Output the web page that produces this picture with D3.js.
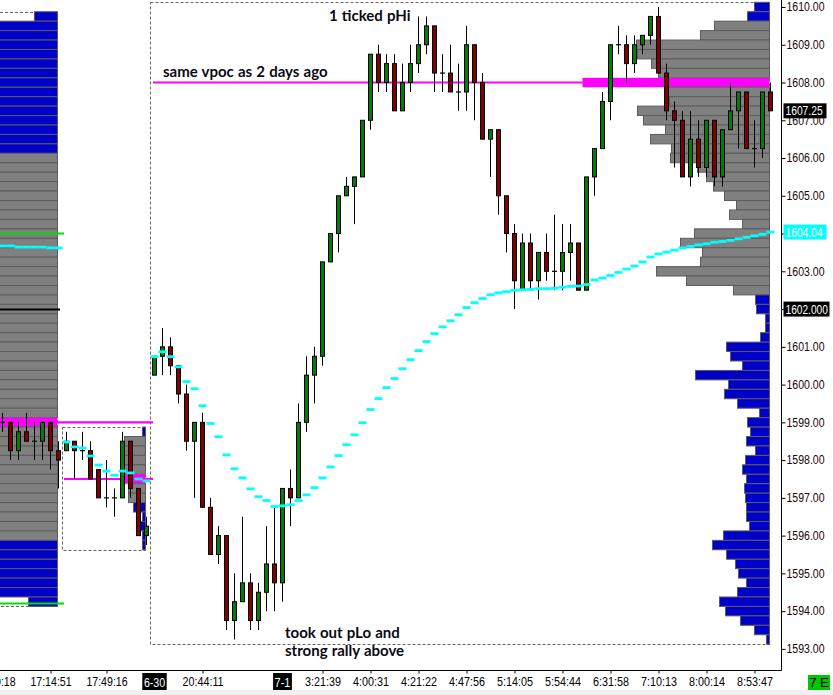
<!DOCTYPE html>
<html><head><meta charset="utf-8">
<script src="https://cdn.jsdelivr.net/npm/d3@7"></script>
<style>
html,body{margin:0;padding:0;background:#fff;overflow:hidden}
svg{display:block}
</style></head><body>
<svg id="chart" width="833" height="695"></svg>
<script>
// ---------- DATA ----------
// candle index n: 0-7 = session A, 8-18 = session B, 19-96 = main session (6-30 / 7-1)
const sessions = [
  {name: "A", first: 0, last: 7},
  {name: "B", first: 8, last: 18},
  {name: "main", first: 19, last: 96}
];

const open = [
  1599, 1599, 1598.25, 1598.75, 1598.5, 1598.5, 1599, 1598.25,
  1598.25, 1598.5, 1598.25, 1598.25, 1597.75, 1597, 1597, 1597, 1598.5, 1597.25, 1596,
  1600.25, 1600.75, 1601, 1600.5, 1599.75, 1598.5, 1599, 1596.75, 1595.5, 1596,
  1593.75, 1594.25, 1594.75, 1593.75, 1594.5, 1595.25, 1594.75, 1597.25, 1597, 1599,
  1600.25, 1600.75, 1603.25, 1604, 1605, 1605.25, 1605.5, 1607, 1608.75, 1608,
  1608.5, 1607.25, 1608, 1608.5, 1609, 1609.5, 1608.25, 1608.25, 1607.75, 1607.75,
  1609, 1608, 1606.5, 1606.75, 1605, 1604, 1602.5, 1603.75, 1602.75, 1603.5,
  1603, 1603, 1603.5, 1603.75, 1602.5, 1605.5, 1606.25, 1607.5, 1609, 1609,
  1608.5, 1609, 1609.25, 1609.75, 1608.25, 1607.25, 1607, 1605.5, 1606.5, 1605.75,
  1607, 1605.5, 1606.75, 1607.25, 1607.75, 1606.25, 1606.25, 1607.75
];
const high = [
  1599.25, 1599, 1599, 1599.25, 1599, 1599, 1599, 1598.5,
  1598.75, 1598.5, 1598.75, 1598.5, 1597.75, 1598, 1597.25, 1598.75, 1598.5, 1597.25, 1596.5,
  1600.75, 1601.5, 1601.25, 1600.5, 1600, 1599, 1599.25, 1597, 1596.25, 1596,
  1595, 1596.5, 1595, 1594.75, 1596.25, 1596.75, 1597.25, 1597.75, 1599.5, 1600.75,
  1601, 1603.25, 1604, 1605, 1605.5, 1605.5, 1607, 1608.75, 1609, 1608.75,
  1608.75, 1608.5, 1609, 1609.75, 1609.75, 1609.5, 1608.75, 1609, 1608.5, 1609.5,
  1609, 1608.25, 1606.75, 1606.75, 1605, 1604.25, 1604, 1604, 1603.5, 1604,
  1604.5, 1604.25, 1604.25, 1603.75, 1605.5, 1606.25, 1607.75, 1609, 1609.5, 1609.25,
  1609.25, 1609.25, 1609.75, 1610, 1608.5, 1607.5, 1607.25, 1607.25, 1607, 1607,
  1607, 1606.75, 1608, 1607.75, 1607.75, 1607, 1607.75, 1608
];
const low = [
  1598.75, 1598, 1598, 1598.5, 1598, 1598, 1597.75, 1597.25,
  1598.25, 1597.5, 1598, 1597.5, 1597, 1596.75, 1596.5, 1597, 1597, 1596, 1595.75,
  1600.25, 1600.25, 1600.25, 1599.5, 1598.25, 1597, 1596.75, 1595.5, 1595.25, 1593.5,
  1593.25, 1594.25, 1593.5, 1593.5, 1594, 1594, 1594.25, 1596.25, 1597, 1598.75,
  1599.5, 1600.5, 1603.25, 1603.5, 1605, 1604.25, 1605.5, 1606.75, 1607.75, 1607.75,
  1607.25, 1607.25, 1607.75, 1608.25, 1608.75, 1607.75, 1607.75, 1607.75, 1607.25, 1607.25,
  1607, 1606.5, 1605.5, 1604.5, 1603.5, 1602, 1602.5, 1602.5, 1602.25, 1602.75,
  1602.5, 1602.5, 1602.75, 1602.5, 1602.5, 1605, 1606.25, 1607, 1608.75, 1608,
  1608.25, 1608.75, 1609, 1608.25, 1607, 1605.75, 1605.5, 1605.25, 1605.5, 1605.5,
  1605.25, 1605.25, 1606.75, 1606.25, 1606.25, 1605.75, 1606, 1607.25
];
const close = [
  1599, 1598.25, 1598.75, 1598.5, 1598.5, 1599, 1598.25, 1598,
  1598.5, 1598.25, 1598.25, 1597.5, 1597, 1597, 1597, 1598.5, 1597.25, 1596, 1596.25,
  1600.75, 1601, 1600.5, 1599.75, 1598.5, 1599, 1596.75, 1595.5, 1596, 1593.75,
  1594.25, 1594.75, 1593.75, 1594.5, 1595.25, 1594.75, 1597.25, 1597, 1599, 1600.25,
  1600.75, 1603.25, 1604, 1605, 1605.25, 1605.5, 1607, 1608.75, 1608, 1608.5,
  1607.25, 1608, 1608.5, 1609, 1609.5, 1608.25, 1608.25, 1607.75, 1607.75, 1609,
  1608, 1606.5, 1606.75, 1605, 1604, 1602.75, 1603.75, 1602.75, 1603.5, 1603,
  1603, 1603.5, 1603.75, 1602.5, 1605.5, 1606.25, 1607.5, 1609, 1609, 1608.5,
  1609, 1609.25, 1609.75, 1608.25, 1607.25, 1607, 1605.5, 1606.5, 1605.75, 1607,
  1605.5, 1606.75, 1607.25, 1607.75, 1606.25, 1606.25, 1607.75, 1607.25
];
// session VWAP value at each candle
const vwap = [
  1603.67, 1603.67, 1603.64, 1603.64, 1603.64, 1603.64, 1603.62, 1603.62,
  1598.48, 1598.35, 1598.32, 1598.11, 1597.87, 1597.71, 1597.60, 1597.71, 1597.66, 1597.50, 1597.45,
  1600.74, 1600.87, 1600.74, 1600.47, 1600.08, 1599.89, 1599.44, 1598.97, 1598.62, 1598.14,
  1597.77, 1597.53, 1597.24, 1597.03, 1596.93, 1596.77, 1596.79, 1596.82, 1596.93, 1597.08,
  1597.27, 1597.53, 1597.82, 1598.12, 1598.41, 1598.67, 1598.99, 1599.34, 1599.63, 1599.92,
  1600.16, 1600.42, 1600.66, 1600.90, 1601.14, 1601.35, 1601.53, 1601.69, 1601.85, 1602.04,
  1602.17, 1602.28, 1602.38, 1602.43, 1602.46, 1602.50, 1602.51, 1602.52, 1602.54, 1602.54,
  1602.55, 1602.58, 1602.60, 1602.61, 1602.65, 1602.77, 1602.82, 1602.89, 1602.97, 1603.06,
  1603.14, 1603.25, 1603.38, 1603.46, 1603.51, 1603.56, 1603.62, 1603.66, 1603.70, 1603.73,
  1603.77, 1603.79, 1603.82, 1603.86, 1603.90, 1603.94, 1603.98, 1604.04
];

// volume profiles: top price, rows every 0.25 downward
const profATop = 1609.75;
const profAVol = [23,
  70, 72, 75, 78, 80, 76, 82, 85, 88, 84, 90, 92, 95, 98,
  100, 104, 108, 112, 110, 115, 118, 120, 122, 125, 128, 126, 130, 132, 135, 138, 140, 142, 145, 150, 160,
  180, 155, 150, 145, 140, 138, 135, 130, 128, 125, 120, 118, 115, 112, 110, 108, 105, 102, 100, 98,
  90, 85, 80, 75, 70, 65, 29];
const profAPoc = 1599, profAVA = [1606, 1596];

const profBTop = 1598.75;
const profBVol = [3, 21, 21, 21, 21, 22, 17, 17, 12, 3, 5, 3, 3];
const profBPoc = 1597.5, profBVA = [1598.5, 1597];

const profMTop = 1610;
const profMVol = [15, 22, 55, 69, 133, 132, 118, 111, 187, 102, 100, 132, 126, 104, 119, 98, 99,
  72, 63, 56, 45, 33, 40, 27, 75, 89, 67, 69, 113, 83, 36, 14, 13, 4, 4, 9, 43, 39, 27, 74,
  41, 45, 32, 10, 22, 19, 23, 14, 24, 27, 23, 25, 24, 23, 23, 20, 46, 57, 43, 34, 31, 23,
  32, 50, 44, 29, 15, 3];
const profMPoc = 1608, profMVA = [1609.5, 1602.5];

// extra level lines on the left
const greenLevels = [1604, 1594.2];
const blackLevel = 1602;

// axis labels
const priceTicks = [1593, 1594, 1595, 1596, 1597, 1598, 1599, 1600, 1601, 1602, 1603, 1604, 1605, 1606, 1607, 1608, 1609, 1610];
const timeTickIdx = [-1, 6, 13, 25, 40, 46, 52, 58, 64, 70, 76, 82, 88, 94];
const timeTickLabels = ["16:40:18", "17:14:51", "17:49:16", "20:44:11", "3:21:39", "4:00:31", "4:21:22", "4:47:56", "5:14:05", "5:54:44", "6:31:58", "7:10:13", "8:00:14", "8:53:47"];
const dateTickIdx = [19, 35];
const dateTickLabels = ["6-30", "7-1"];
const lastPrice = 1607.25;
const lastVwap = 1604.04;
const markerLevel = 1602;

// ---------- DRAW ----------
const svg = d3.select("#chart");
const W = 833, H = 695;
const plotRight = 781.5, plotBottom = 670.5;

const x = d3.scaleLinear().domain([0, 96]).range([2.5, 770.5]);
const y = d3.scaleLinear().domain([1593, 1610]).range([648.9, 7]);
const rowH = y(1609.75) - y(1610);
const vol = d3.scaleLinear().domain([0, 100]).range([0, 100]);

const root = svg.append("g");
svg.append("defs").append("clipPath").attr("id", "plotclip")
  .append("rect").attr("x", 0).attr("y", 0).attr("width", plotRight).attr("height", plotBottom);
const plot = root.append("g").attr("clip-path", "url(#plotclip)");

function drawProfile(top, vols, poc, va, rightX) {
  const rows = vols.map((v, i) => ({p: top - 0.25 * i, v}));
  plot.append("g").selectAll("rect").data(rows).join("rect")
    .attr("x", d => rightX - vol(d.v))
    .attr("y", d => y(d.p) - rowH / 2)
    .attr("width", d => vol(d.v))
    .attr("height", rowH)
    .attr("fill", d => d.p === poc ? "#ff00ff" : (d.p <= va[0] && d.p >= va[1] ? "#808080" : "#0000c8"))
    .attr("stroke", d => d.p === poc ? "none" : "#5c5c5c")
    .attr("stroke-width", 1);
}

function box(first, last, top, n) {
  const y0 = y(top + 0.125), y1 = y(top - 0.25 * (n - 1) - 0.125);
  const x0 = first === 0 ? -10 : x(first) - 4;
  plot.append("rect")
    .attr("x", x0).attr("y", Math.round(y0) + 0.5)
    .attr("width", x(last) - 1 - x0).attr("height", Math.round(y1) - Math.round(y0))
    .attr("fill", "none").attr("stroke", "#666").attr("stroke-dasharray", "3,2");
}

function pocLine(x0, x1, p) {
  plot.append("line").attr("x1", x0).attr("x2", x1).attr("y1", y(p)).attr("y2", y(p))
    .attr("stroke", "#ff00ff").attr("stroke-width", 2.2);
}

box(0, 7, profATop, profAVol.length);
box(8, 18, profBTop, profBVol.length);
box(19, 96, profMTop, profMVol.length);

drawProfile(profATop, profAVol, profAPoc, profAVA, x(7) - 1);
drawProfile(profBTop, profBVol, profBPoc, profBVA, x(18) - 1);

pocLine(x(7) - 1, x(19) - 1.5, profAPoc);
pocLine(x(8) - 2.5, x(19) - 1.5, profBPoc);
pocLine(x(19) - 1.5, x(96) - 1 - vol(profMVol[(profMTop - profMPoc) / 0.25]), profMPoc);

drawProfile(profMTop, profMVol, profMPoc, profMVA, x(96) - 1);

greenLevels.forEach(p => {
  plot.append("line").attr("x1", 0).attr("x2", 64).attr("y1", y(p)).attr("y2", y(p))
    .attr("stroke", "#00e000").attr("stroke-width", 2);
});
plot.append("line").attr("x1", 0).attr("x2", 60).attr("y1", Math.round(y(blackLevel)) + 0.5).attr("y2", Math.round(y(blackLevel)) + 0.5)
  .attr("stroke", "#000").attr("stroke-width", 2);

// candles
const candles = open.map((o, n) => ({n, o, h: high[n], l: low[n], c: close[n]}));
const cg = plot.append("g");
cg.selectAll("line.wick").data(candles).join("line").attr("class", "wick")
  .attr("x1", d => x(d.n)).attr("x2", d => x(d.n))
  .attr("y1", d => y(d.h)).attr("y2", d => y(d.l))
  .attr("stroke", "#000").attr("stroke-width", 1);
cg.selectAll("rect.body").data(candles.filter(d => d.o !== d.c)).join("rect").attr("class", "body")
  .attr("x", d => x(d.n) - 2)
  .attr("y", d => y(Math.max(d.o, d.c)))
  .attr("width", 4)
  .attr("height", d => Math.abs(y(d.o) - y(d.c)))
  .attr("fill", d => d.c > d.o ? "#008000" : "#800000")
  .attr("stroke", "#000").attr("stroke-width", 1);
cg.selectAll("line.doji").data(candles.filter(d => d.o === d.c)).join("line").attr("class", "doji")
  .attr("x1", d => x(d.n) - 2.5).attr("x2", d => x(d.n) + 2.5)
  .attr("y1", d => y(d.o)).attr("y2", d => y(d.o))
  .attr("stroke", "#000").attr("stroke-width", 1.2);

// VWAP dashes
plot.append("g").selectAll("line").data(vwap.map((v, n) => ({n, v}))).join("line")
  .attr("x1", d => x(d.n) - 4).attr("x2", d => x(d.n) + 4)
  .attr("y1", d => y(d.v)).attr("y2", d => y(d.v))
  .attr("stroke", "#00ffff").attr("stroke-width", 2.8);

// annotations
const ann = [
  {t: "same vpoc as 2 days ago", x: 163, y: 77},
  {t: "1 ticked pHi", x: 329, y: 21},
  {t: "took out pLo and", x: 285, y: 638},
  {t: "strong rally above", x: 285, y: 656}
];
plot.append("g").selectAll("text").data(ann).join("text")
  .attr("x", d => d.x).attr("y", d => d.y).text(d => d.t)
  .attr("font-family", "Lato, 'Open Sans', sans-serif").attr("font-weight", "bold")
  .attr("font-size", 15).attr("word-spacing", 0.5).attr("fill", "#0a0a14");

// axes
root.append("line").attr("x1", plotRight).attr("x2", plotRight).attr("y1", 0).attr("y2", plotBottom)
  .attr("stroke", "#000").attr("stroke-width", 1);
root.append("line").attr("x1", 0).attr("x2", plotRight).attr("y1", plotBottom).attr("y2", plotBottom)
  .attr("stroke", "#000").attr("stroke-width", 1);

const yAxis = d3.axisRight(y).tickValues(priceTicks).tickFormat(d3.format(".2f")).tickSize(4).tickSizeOuter(0).tickPadding(1);
const ya = root.append("g").attr("transform", `translate(${plotRight},0)`).call(yAxis);
ya.select(".domain").remove();
ya.selectAll("text").attr("font-family", "'Liberation Sans', Arial, sans-serif").attr("font-size", 12)
  .attr("fill", "#1a0505").attr("textLength", 38).attr("lengthAdjust", "spacingAndGlyphs");

const xAxis = d3.axisBottom(x).tickValues(timeTickIdx).tickFormat((d, i) => timeTickLabels[i]).tickSize(3).tickSizeOuter(0).tickPadding(3);
const xa = root.append("g").attr("transform", `translate(0,${plotBottom})`).call(xAxis);
xa.select(".domain").remove();
xa.selectAll("text").attr("font-family", "'Liberation Sans', Arial, sans-serif").attr("font-size", 13)
  .attr("fill", "#000").attr("textLength", function(d, i) { return timeTickLabels[i].length * 5.15; })
  .attr("lengthAdjust", "spacingAndGlyphs");

// date markers
const dg = root.append("g");
dateTickIdx.forEach((n, i) => {
  const w = dateTickLabels[i].length * 5.6 + 2;
  dg.append("rect").attr("x", x(n) - w / 2).attr("y", 673).attr("width", w).attr("height", 18).attr("fill", "#000");
  dg.append("text").attr("x", x(n)).attr("y", 687).attr("text-anchor", "middle").text(dateTickLabels[i])
    .attr("font-family", "'Liberation Sans', Arial, sans-serif").attr("font-size", 13).attr("fill", "#fff")
    .attr("textLength", dateTickLabels[i].length * 5.3).attr("lengthAdjust", "spacingAndGlyphs");
});

// right-side value tags
function tag(p, label, fill, w) {
  root.append("rect").attr("x", 783.5).attr("y", y(p) - 7.5).attr("width", w).attr("height", 15).attr("fill", fill);
  root.append("text").attr("x", 785.5).attr("y", y(p) + 4.5).text(label)
    .attr("font-family", "'Liberation Sans', Arial, sans-serif").attr("font-size", 12).attr("fill", "#fff")
    .attr("textLength", label.length * 5.3).attr("lengthAdjust", "spacingAndGlyphs");
}
tag(lastVwap, d3.format(".2f")(lastVwap), "#00ffff", 43);
tag(markerLevel, d3.format(".3f")(markerLevel), "#000", 46);
tag(lastPrice, d3.format(".2f")(lastPrice), "#000", 43);

// bottom-right status box and scrollbar strip
root.append("rect").attr("x", 0).attr("y", 690).attr("width", W).attr("height", 5).attr("fill", "#f0f0f0");
root.append("rect").attr("x", 808).attr("y", 675).attr("width", 22).attr("height", 15).attr("fill", "#00c800");
root.append("text").attr("x", 819).attr("y", 687).attr("text-anchor", "middle").text("7 E")
  .attr("font-family", "'Liberation Sans', Arial, sans-serif").attr("font-size", 13).attr("fill", "#000");
</script></body></html>
